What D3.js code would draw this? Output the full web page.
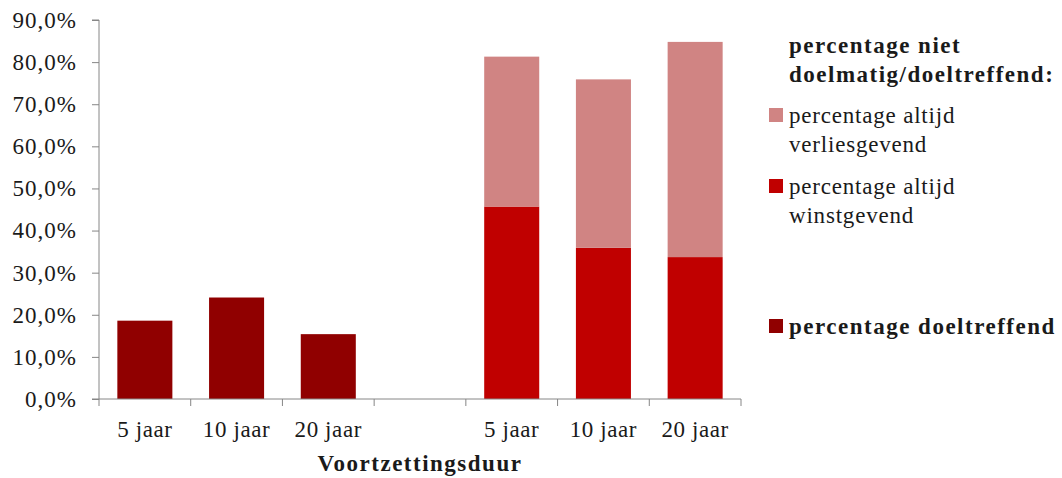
<!DOCTYPE html>
<html><head><meta charset="utf-8">
<script src="https://cdn.jsdelivr.net/npm/d3@7/dist/d3.min.js"></script>
<style>body{margin:0;background:#fff}svg{display:block}</style>
</head><body>
<svg id="c" width="1062" height="478"></svg>
<script>
const categories = ["a5","a10","a20","gap","b5","b10","b20"];
const categoryLabels = ["5 jaar","10 jaar","20 jaar","","5 jaar","10 jaar","20 jaar"];
const doeltreffend = [18.6, 24.1, 15.4, null, null, null, null];
const winstgevend = [null, null, null, null, 45.7, 35.9, 33.7];
const verliesgevend = [null, null, null, null, 35.6, 40.0, 51.1];
const yTicks = [0,10,20,30,40,50,60,70,80,90];
const legendTitle = ["percentage niet", "doelmatig/doeltreffend:"];
const legendItems = [
  {lines:["percentage altijd","verliesgevend"], color:"#D08483", bold:false},
  {lines:["percentage altijd","winstgevend"], color:"#C00000", bold:false},
  {lines:["percentage doeltreffend"], color:"#900000", bold:true}
];
const xTitle = "Voortzettingsduur";

(function(){
const svg = d3.select("#c");
const font = "'Liberation Serif', 'DejaVu Serif', serif";
const fs = 23;
const pl = 99, pr = 741, pt = 20, pb = 399;
const x = d3.scaleBand().domain(categories).range([pl, pr]).paddingInner(0.4).paddingOuter(0.2);
const y = d3.scaleLinear().domain([0, 90]).range([pb, pt]);
const axisColor = "#868686";
const txt = "#1a1a1a";

// bars
const g = svg.append("g");
categories.forEach((c, i) => {
  if (doeltreffend[i] != null) {
    g.append("rect").attr("x", x(c)).attr("width", x.bandwidth())
      .attr("y", y(doeltreffend[i])).attr("height", y(0) - y(doeltreffend[i])).attr("fill", "#900000");
  }
  if (winstgevend[i] != null) {
    g.append("rect").attr("x", x(c)).attr("width", x.bandwidth())
      .attr("y", y(winstgevend[i])).attr("height", y(0) - y(winstgevend[i])).attr("fill", "#C00000");
    const tot = winstgevend[i] + verliesgevend[i];
    g.append("rect").attr("x", x(c)).attr("width", x.bandwidth())
      .attr("y", y(tot)).attr("height", y(winstgevend[i]) - y(tot)).attr("fill", "#D08483");
  }
});

// y axis
const yAxis = d3.axisLeft(y).tickValues(yTicks).tickSize(7).tickPadding(15)
  .tickFormat(d => d.toFixed(1).replace(".", ",") + "%");
const yg = svg.append("g").attr("transform", `translate(${pl},0)`).call(yAxis);
yg.select(".domain").attr("stroke", axisColor).attr("d", `M-7,${pt}H0V${pb}`);
yg.selectAll(".tick line").attr("stroke", axisColor);
yg.selectAll(".tick text").attr("font-family", font).attr("font-size", fs)
  .attr("letter-spacing", 1).attr("fill", txt);

// x axis
const xg = svg.append("g").attr("transform", `translate(0,${pb})`);
xg.append("line").attr("x1", pl - 7).attr("x2", pr).attr("y1", 0).attr("y2", 0).attr("stroke", axisColor);
const bounds = d3.range(categories.length + 1).map(i => pl + i * (pr - pl) / categories.length);
xg.selectAll("line.tk").data(bounds).join("line").attr("class", "tk")
  .attr("x1", d => d).attr("x2", d => d).attr("y1", 0).attr("y2", 7).attr("stroke", axisColor);
xg.selectAll("text.lbl").data(categories).join("text").attr("class", "lbl")
  .attr("x", (d) => x(d) + x.bandwidth() / 2).attr("y", 38)
  .attr("text-anchor", "middle").attr("font-family", font).attr("font-size", fs)
  .attr("letter-spacing", 0.6).attr("fill", txt)
  .text((d, i) => categoryLabels[i]);
svg.append("text").attr("x", (pl + pr) / 2).attr("y", 471).attr("text-anchor", "middle")
  .attr("font-family", font).attr("font-size", fs).attr("font-weight", "bold")
  .attr("letter-spacing", 1.5).attr("fill", txt)
  .text(xTitle);

// legend
const lg = svg.append("g");
legendTitle.forEach((t, i) => {
  lg.append("text").attr("x", 789).attr("y", 53 + i * 29).attr("font-family", font)
    .attr("font-size", fs).attr("font-weight", "bold").attr("letter-spacing", 1.5)
    .attr("fill", txt).text(t);
});
const itemY = [108, 179, 319];
legendItems.forEach((it, k) => {
  lg.append("rect").attr("x", 769).attr("y", itemY[k]).attr("width", 14).attr("height", 14).attr("fill", it.color);
  it.lines.forEach((l, j) => {
    lg.append("text").attr("x", 789).attr("y", itemY[k] + 15 + j * 29).attr("font-family", font)
      .attr("font-size", fs).attr("font-weight", it.bold ? "bold" : "normal")
      .attr("letter-spacing", it.bold ? 1.5 : 0.8).attr("fill", txt).text(l);
  });
});
})();
</script>
</body></html>
